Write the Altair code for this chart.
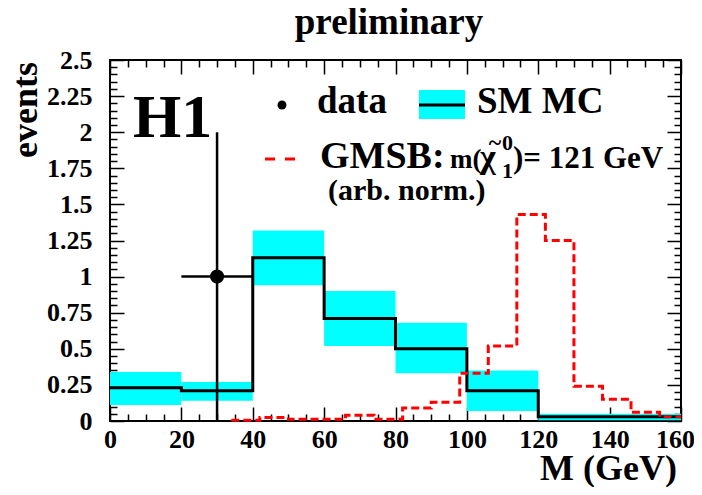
import altair as alt
import pandas as pd

# ---- data ----
mc_edges = [0, 20, 40, 60, 80, 100, 120, 140, 160]
mc_vals = [0.23, 0.21, 1.13, 0.71, 0.50, 0.21, 0.03, 0.03]
mc_lo = [0.11, 0.14, 0.94, 0.52, 0.33, 0.07, 0.005, 0.005]
mc_hi = [0.34, 0.27, 1.32, 0.90, 0.68, 0.35, 0.05, 0.05]

gmsb_edges = [34, 42, 50, 58, 66, 74, 82, 90, 98, 106, 114, 122, 130, 138, 146, 154, 160]
gmsb_vals = [0.005, 0.025, 0.012, 0.012, 0.04, 0.012, 0.09, 0.13, 0.33, 0.52,
             1.43, 1.25, 0.24, 0.15, 0.06, 0.03]

data_x = [30]
data_y = [1.0]
data_xlo = [20]
data_xhi = [40]
data_ylo = [0.0]
data_yhi = [2.0]

x_major = [0, 20, 40, 60, 80, 100, 120, 140, 160]
x_minor = [v for v in range(0, 161, 5) if v % 20]
y_major = [0, 0.25, 0.5, 0.75, 1, 1.25, 1.5, 1.75, 2, 2.25, 2.5]
y_minor = [round(i * 0.05, 2) for i in range(51) if i % 5]

FONT = "Liberation Serif"
W, H = 571, 361

xs = alt.Scale(domain=[0, 160], nice=False, zero=False)
ys = alt.Scale(domain=[0, 2.5], nice=False, zero=False)


def xaxis(orient, values, size, labels):
    return alt.Axis(orient=orient, values=values, tickSize=size, offset=-size,
                    domain=False, grid=False, labels=labels, title=None,
                    tickColor="black", tickWidth=1.5, labelFont=FONT,
                    labelFontSize=26, labelFontWeight="bold", labelColor="black",
                    labelPadding=5, labelFlush=False, labelOverlap=False,
                    labelOffset={"condition": {"test": "datum.value == 160", "value": -6},
                                 "value": 0})


def yaxis(orient, values, size, labels):
    return alt.Axis(orient=orient, values=values, tickSize=size, offset=-size,
                    domain=False, grid=False, labels=labels, title=None,
                    tickColor="black", tickWidth=1.5, labelFont=FONT,
                    labelFontSize=26, labelFontWeight="bold", labelColor="black",
                    labelPadding=18, labelFlush=False, labelOverlap=False,
                    labelExpr="'' + datum.value")


mc_df = pd.DataFrame({"lo": mc_edges[:-1], "hi": mc_edges[1:], "v": mc_vals,
                      "blo": mc_lo, "bhi": mc_hi})
mc_line_df = pd.DataFrame({"x": mc_edges, "y": mc_vals + [mc_vals[-1]]})
gm_df = pd.DataFrame({"x": gmsb_edges, "y": gmsb_vals + [gmsb_vals[-1]]})
pt_df = pd.DataFrame({"x": data_x, "y": data_y, "xlo": data_xlo, "xhi": data_xhi,
                      "ylo": data_ylo, "yhi": data_yhi})

band = alt.Chart(mc_df).mark_rect(color="#00ffff").encode(
    x=alt.X("lo:Q", scale=xs, axis=xaxis("bottom", x_major, 14, True)),
    x2="hi:Q",
    y=alt.Y("blo:Q", scale=ys, axis=yaxis("left", y_major, 14, True)),
    y2="bhi:Q",
)

mc_line = alt.Chart(mc_line_df).mark_line(
    color="black", strokeWidth=3, interpolate="step-after").encode(
    x=alt.X("x:Q", scale=xs, axis=xaxis("bottom", x_minor, 7, False)),
    y=alt.Y("y:Q", scale=ys, axis=yaxis("left", y_minor, 7, False)),
)

gm_line = alt.Chart(gm_df).mark_line(
    color="#ff0000", strokeWidth=3, strokeDash=[8, 4], interpolate="step-after").encode(
    x=alt.X("x:Q", scale=xs, axis=xaxis("top", x_major, 14, False)),
    y=alt.Y("y:Q", scale=ys, axis=yaxis("right", y_major, 14, False)),
)

err_h = alt.Chart(pt_df).mark_rule(color="black", strokeWidth=2.5).encode(
    x=alt.X("xlo:Q", scale=xs, axis=xaxis("top", x_minor, 7, False)),
    x2="xhi:Q",
    y=alt.Y("y:Q", scale=ys, axis=yaxis("right", y_minor, 7, False)),
)
err_v = alt.Chart(pt_df).mark_rule(color="black", strokeWidth=2.5).encode(
    x=alt.X("x:Q", scale=xs, axis=None),
    y=alt.Y("ylo:Q", scale=ys, axis=None),
    y2="yhi:Q",
)
pt = alt.Chart(pt_df).mark_point(filled=True, color="black", size=200, opacity=1).encode(
    x=alt.X("x:Q", scale=xs, axis=None),
    y=alt.Y("y:Q", scale=ys, axis=None),
)


def txt(s, x, y, size, align="left", angle=0):
    return alt.Chart(pd.DataFrame({"t": [s]})).mark_text(
        font=FONT, fontWeight="bold", fontSize=size, align=align,
        baseline="alphabetic", color="black", angle=angle).encode(
        x=alt.value(x), y=alt.value(y), text="t:N")


leg_dot = alt.Chart(pd.DataFrame({"a": [0]})).mark_point(
    filled=True, color="black", size=80, opacity=1).encode(
    x=alt.value(172), y=alt.value(45))
leg_box = alt.Chart(pd.DataFrame({"a": [0]})).mark_rect(color="#00ffff").encode(
    x=alt.value(309), x2=alt.value(355), y=alt.value(30), y2=alt.value(59))
leg_line = alt.Chart(pd.DataFrame({"a": [0]})).mark_rule(color="black", strokeWidth=3).encode(
    x=alt.value(309), x2=alt.value(355), y=alt.value(45))
leg_dash = alt.Chart(pd.DataFrame({"a": [0]})).mark_rule(
    color="#ff0000", strokeWidth=3, strokeDash=[10, 10]).encode(
    x=alt.value(155), x2=alt.value(185), y=alt.value(99))

texts = [
    txt("preliminary", 279, -26, 37, align="center"),
    txt("events", -73, 2, 36, align="right", angle=270),
    txt("M (GeV)", 567, 420, 36, align="right"),
    txt("H1", 23, 77, 62),
    txt("data", 207, 53, 37),
    txt("SM MC", 367, 53, 37),
    txt("GMSB:", 210, 108, 38),
    txt("m(", 340, 108, 27),
    txt("χ", 370, 108, 34),
    txt("~", 385, 90, 24, align="center"),
    txt("0", 392, 90, 22),
    txt("1", 392, 118, 22),
    txt(")= 121 GeV", 403, 108, 31),
    txt("(arb. norm.)", 218, 140, 30),
]

chart = alt.layer(
    band, mc_line, gm_line, err_h, err_v, pt,
    leg_dot, leg_box, leg_line, leg_dash, *texts
).resolve_axis(x="independent", y="independent").properties(
    width=W, height=H,
    autosize=alt.AutoSizeParams(type="none"),
    padding={"left": 102, "top": 52, "right": 13, "bottom": 66},
    background="white",
).configure_view(stroke="black", strokeWidth=2)

chart.save("out.html", embed_options={"renderer": "svg", "actions": False})
